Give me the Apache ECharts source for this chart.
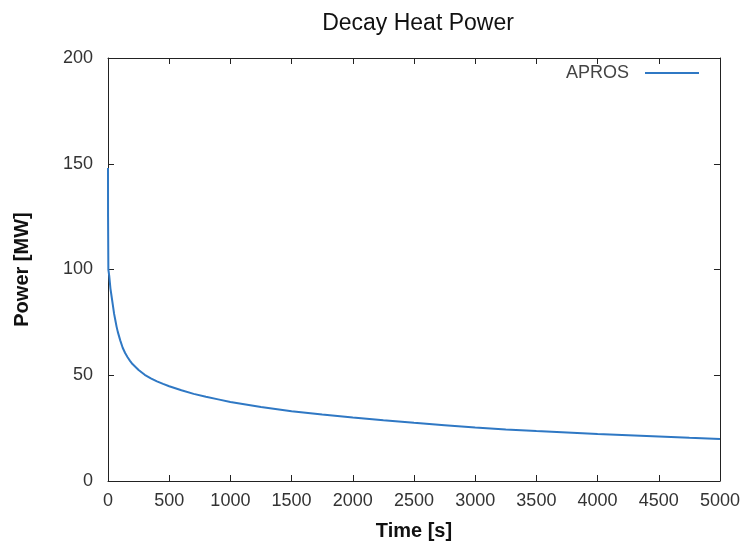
<!DOCTYPE html>
<html>
<head>
<meta charset="utf-8">
<script src="https://cdn.jsdelivr.net/npm/echarts@6/dist/echarts.min.js"></script>
<style>
  html, body { margin: 0; padding: 0; background: #fff; }
  #chart { width: 743px; height: 546px; }
</style>
</head>
<body>
<div id="chart"></div>
<script>
// values
var times = [0, 0.5, 2, 3, 10, 20, 30, 40, 50, 60, 70, 80, 100, 120, 140, 160, 180, 200,
  250, 300, 350, 400, 450, 500, 600, 700, 800, 900, 1000, 1250, 1500, 1750, 2000, 2250,
  2500, 2750, 3000, 3250, 3500, 3750, 4000, 4250, 4500, 4750, 5000];
var power = [148, 125, 125, 100, 97, 91, 87, 83, 79, 76, 73, 70.5, 66.5, 63, 60.5, 58.5, 56.8, 55.3,
  52.5, 50.2, 48.5, 47.1, 45.9, 44.8, 42.9, 41.2, 39.8, 38.6, 37.4, 35, 33, 31.4, 30, 28.7,
  27.5, 26.4, 25.3, 24.4, 23.6, 22.9, 22.2, 21.6, 21, 20.4, 19.9];
var xTicks = [0, 5000, 500];
var yTicks = [0, 200, 50];

var seriesData = times.map(function (t, i) { return [t, power[i]]; });

var textFont = "'Liberation Sans', Arial, sans-serif";

var chart = echarts.init(document.getElementById("chart"));

var baseAxis = {
  axisLine: { show: true, onZero: false, lineStyle: { color: "#222", width: 1 } },
  axisTick: { show: true, inside: true, length: 6, lineStyle: { color: "#222" } },
  splitLine: { show: false },
};

chart.setOption({
  animation: false,
  textStyle: { fontFamily: textFont },
  title: {
    text: "Decay Heat Power",
    left: 413,
    textAlign: "center",
    top: 7,
    textStyle: { fontSize: 23, fontWeight: "normal", color: "#111", fontFamily: textFont },
  },
  legend: {
    right: 44,
    top: 64,
    padding: 0,
    align: "right", // text left of the line
    itemWidth: 54,
    itemHeight: 2,
    icon: "rect",
    data: ["APROS"],
    textStyle: { fontSize: 18, color: "#444", padding: [0, 11, 0, 0] },
  },
  grid: { left: 108, right: 21, top: 58, bottom: 65 },
  xAxis: [
    Object.assign({}, baseAxis, {
      type: "value",
      min: xTicks[0], max: xTicks[1], interval: xTicks[2],
      position: "bottom",
      name: "Time [s]",
      nameLocation: "middle",
      nameGap: 40,
      nameTextStyle: { fontSize: 20, fontWeight: "bold", color: "#111" },
      axisLabel: { fontSize: 18, color: "#333", margin: 11, formatter: function (v) { return String(v); } },
    }),
    Object.assign({}, baseAxis, {
      type: "value",
      min: xTicks[0], max: xTicks[1], interval: xTicks[2],
      position: "top",
      axisLabel: { show: false },
    }),
  ],
  yAxis: [
    Object.assign({}, baseAxis, {
      type: "value",
      min: yTicks[0], max: yTicks[1], interval: yTicks[2],
      position: "left",
      name: "Power [MW]",
      nameLocation: "middle",
      nameGap: 76,
      nameTextStyle: { fontSize: 20, fontWeight: "bold", color: "#111" },
      axisLabel: { fontSize: 18, color: "#333", margin: 15 },
    }),
    Object.assign({}, baseAxis, {
      type: "value",
      min: yTicks[0], max: yTicks[1], interval: yTicks[2],
      position: "right",
      axisLabel: { show: false },
    }),
  ],
  series: [
    {
      name: "APROS",
      type: "line",
      data: seriesData,
      showSymbol: false,
      lineStyle: { color: "#2f78c4", width: 2 },
      itemStyle: { color: "#2f78c4" },
    },
  ],
});
</script>
</body>
</html>
